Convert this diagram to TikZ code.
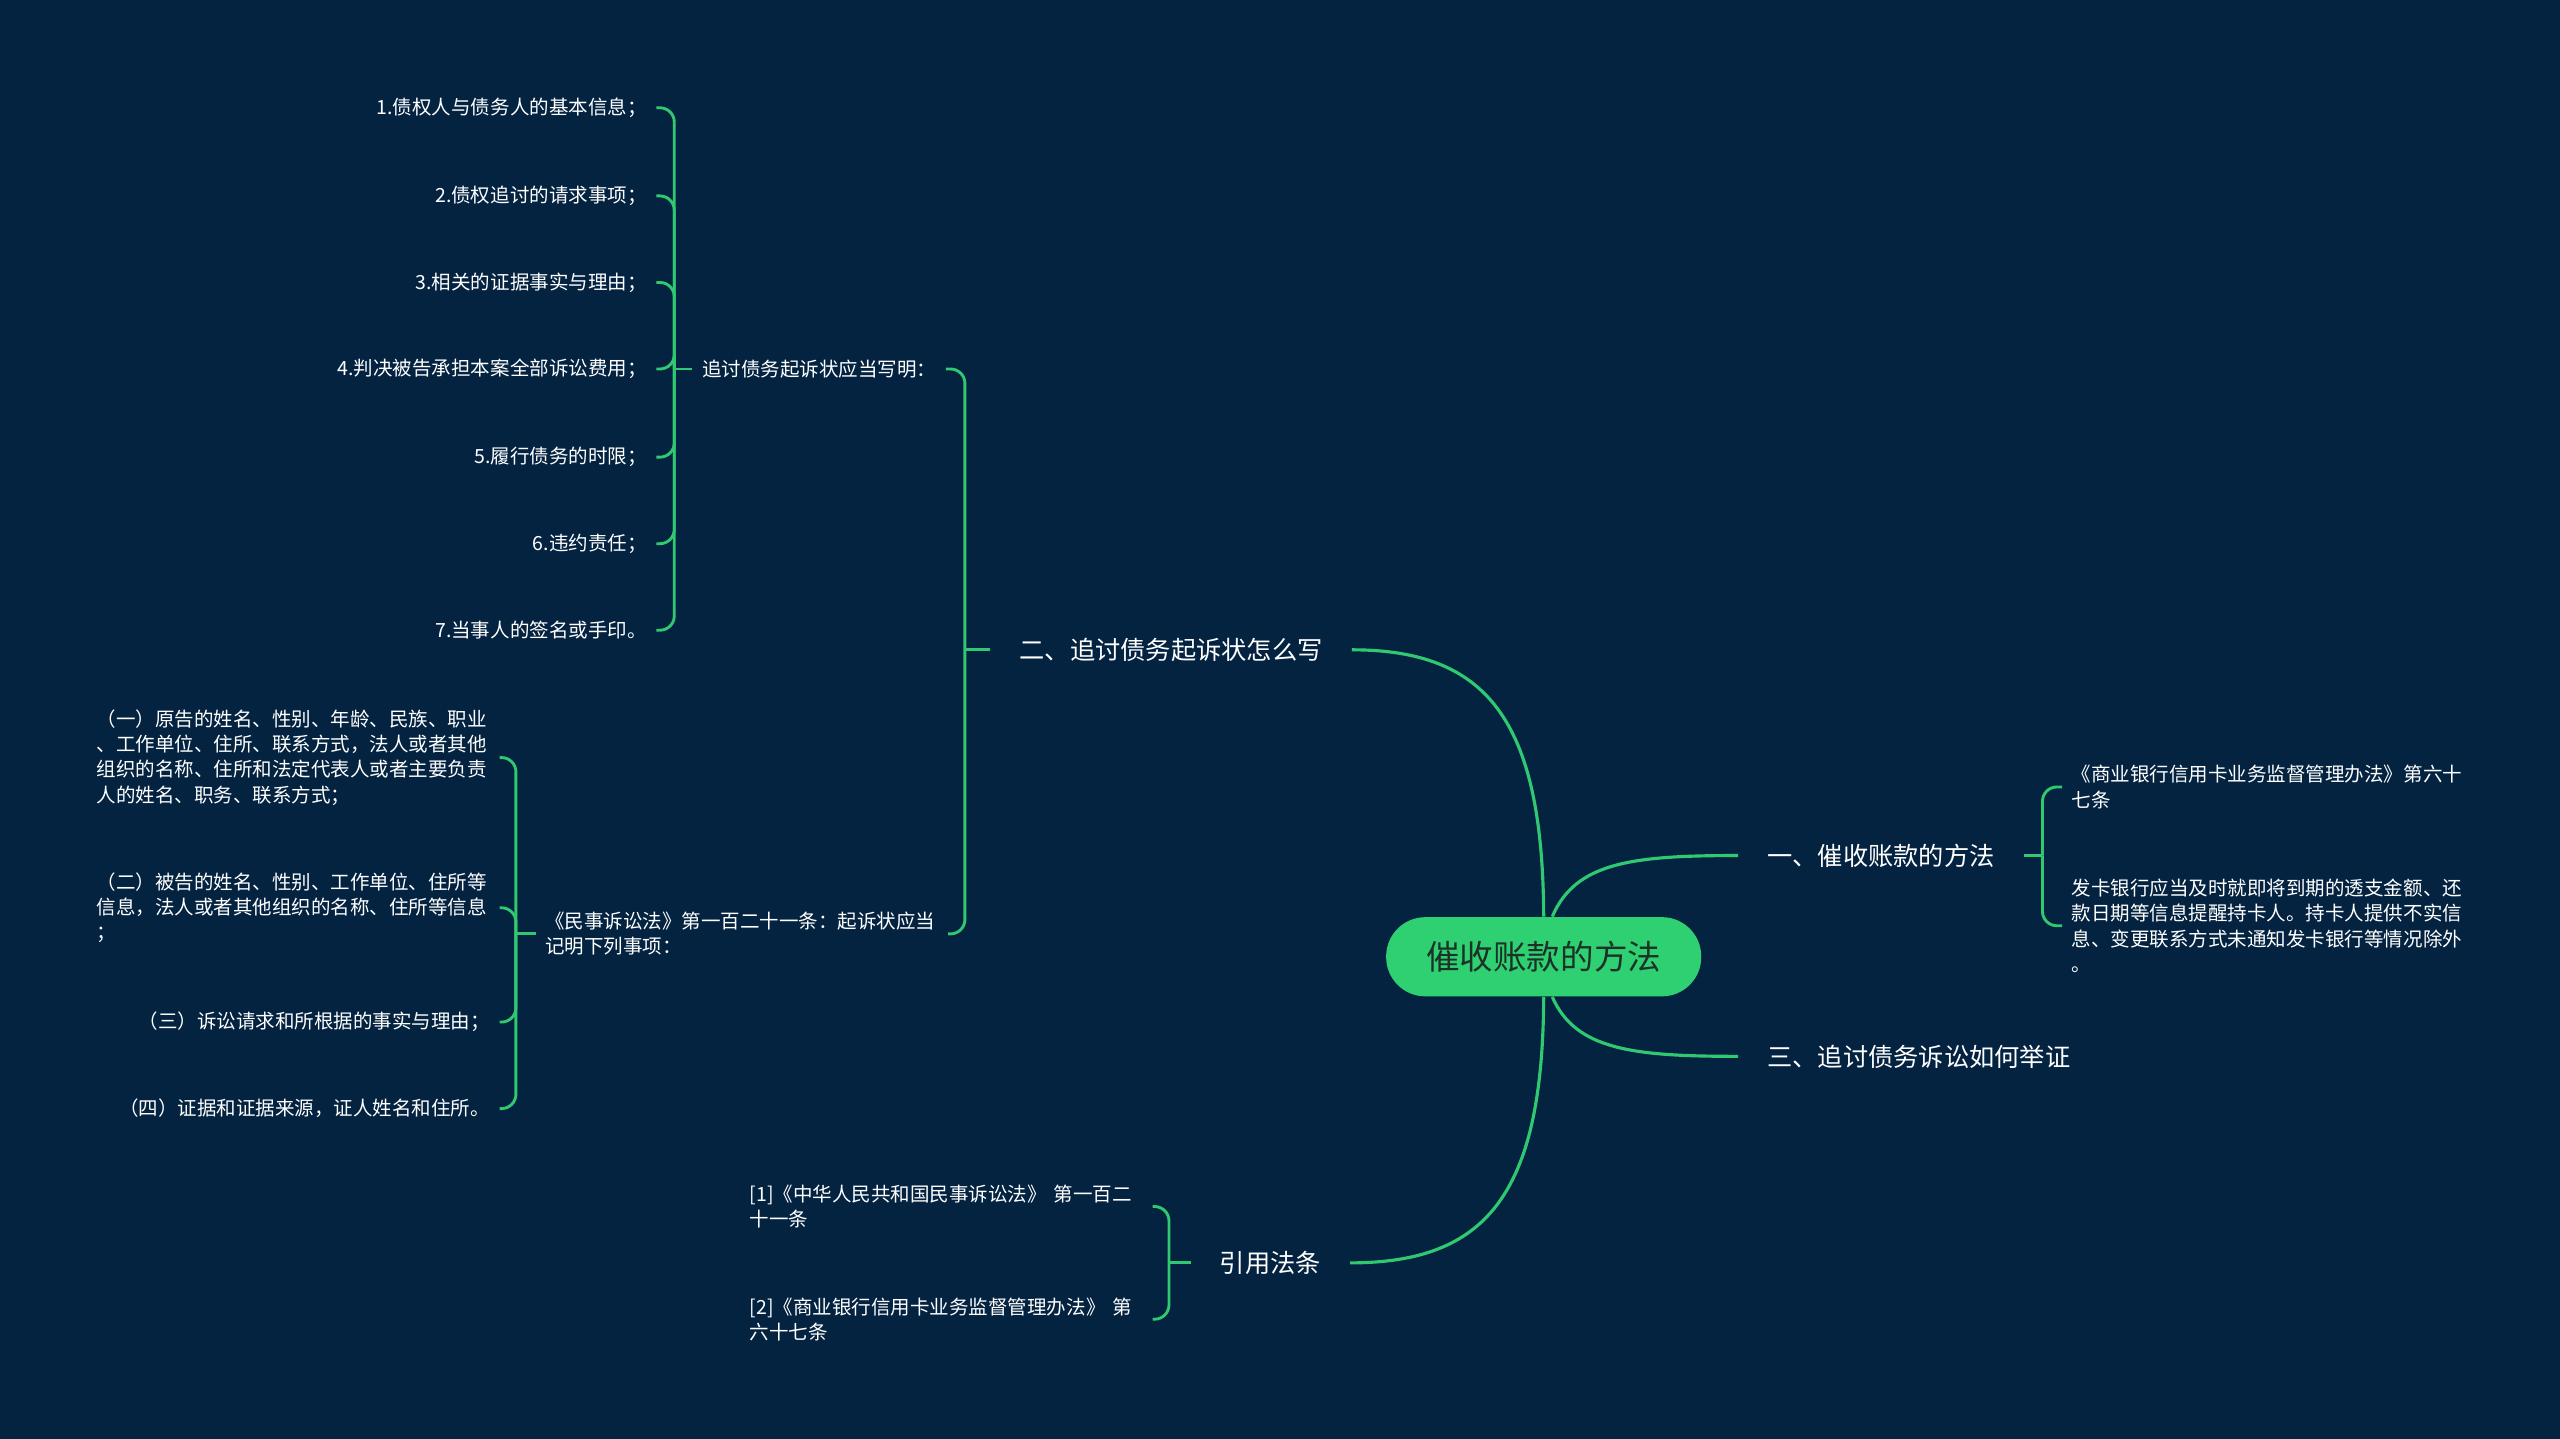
\documentclass[tikz,border=0pt]{standalone}
\usepackage{fontspec}
\setmainfont{Noto Sans CJK SC}
\usepackage{tikz}
\usetikzlibrary{positioning}
\definecolor{bgC}{RGB}{3,35,64}
\definecolor{linkC}{RGB}{48,200,112}
\definecolor{rootC}{RGB}{46,208,114}
\definecolor{rootTextC}{RGB}{28,50,40}
\newcommand{\leafsize}{\fontsize{6.8pt}{8.8pt}\selectfont}
\newcommand{\branchsize}{\fontsize{8.8pt}{10pt}\selectfont}

\begin{document}
\begin{tikzpicture}[x=0.2mm,y=-0.2mm,
    link/.style={linkC,line width=1.1pt},
    brace/.style={linkC,line width=1pt,rounded corners=5pt},
    rootnode/.style={fill=rootC,text=rootTextC,rounded corners=4.8mm,
      minimum width=38.6mm,minimum height=9.7mm,inner sep=0pt,
      font=\fontsize{11.7pt}{13pt}\selectfont},
    branch/.style={text=white,inner xsep=10pt,inner ysep=0pt,font=\branchsize},
    leaf/.style={text=white,inner sep=0pt,outer sep=3.4pt,font=\leafsize},
    leafbox/.style={leaf,text width=137pt,align=left}]
  % background and frame
  \useasboundingbox (0,0) rectangle (1568,881);
  \fill[bgC] (-5,-5) rectangle (1573,886);

  % Root
  \node[rootnode] (root) at (945.5,586) {催收账款的方法};

  % Main branches
  \node[branch,anchor=west] (b1) at (1064.6,524) {一、催收账款的方法};
  \node[branch,anchor=east] (b2) at (828,398) {二、追讨债务起诉状怎么写};
  \node[branch,anchor=west] (b3) at (1064.6,647) {三、追讨债务诉讼如何举证};
  \node[branch,anchor=east] (b4) at (827,773.5) {引用法条};

  \draw[link] (root.north) .. controls (945,440) and (910,398) .. (b2.east);
  \draw[link] (root.south) .. controls (945,732) and (910,773.5) .. (b4.east);
  \draw[link] ([xshift=3pt]root.north) .. controls (965,528) and (1000,524) .. (b1.west);
  \draw[link] ([xshift=3pt]root.south) .. controls (965,643) and (1000,647) .. (b3.west);

  % Branch one
  \coordinate (b1J) at (1251,524);
  \node[leafbox,anchor=west] (rule67) at (1263,482)
    {《商业银行信用卡业务监督管理办法》第六十\\七条};
  \node[leafbox,anchor=west] (remind) at (1263,567)
    {发卡银行应当及时就即将到期的透支金额、还\\款日期等信息提醒持卡人。持卡人提供不实信\\息、变更联系方式未通知发卡银行等情况除外\\。};
  \draw[brace] (b1.east) -- (b1J);
  \draw[brace] (b1J) |- (rule67.west);
  \draw[brace] (b1J) |- (remind.west);

  % Branch two
  \coordinate (b2J) at (591,398);
  \node[leaf,anchor=west] (ask) at (424,226) {追讨债务起诉状应当写明：};
  \node[leafbox,anchor=west] (law121) at (328,572)
    {《民事诉讼法》第一百二十一条：起诉状应当\\记明下列事项：};
  \draw[brace] (b2.west) -- (b2J);
  \draw[brace] (b2J) |- (ask.east);
  \draw[brace] (b2J) |- (law121.east);

  \coordinate (askJ) at (413,226);
  \draw[brace] (ask.west) -- (askJ);
  \foreach \i/\y/\t in {1/66/{1.债权人与债务人的基本信息；},
      2/120/{2.债权追讨的请求事项；},
      3/173/{3.相关的证据事实与理由；},
      4/226/{4.判决被告承担本案全部诉讼费用；},
      5/280/{5.履行债务的时限；},
      6/333/{6.违约责任；},
      7/386/{7.当事人的签名或手印。}}{
    \node[leaf,anchor=east] (item\i) at (402,\y) {\t};
    \draw[brace] (askJ) |- (item\i.east);
  }

  \coordinate (lawJ) at (316,572);
  \node[leafbox,anchor=east] (plain1) at (306,464)
    {（一）原告的姓名、性别、年龄、民族、职业\\、工作单位、住所、联系方式，法人或者其他\\组织的名称、住所和法定代表人或者主要负责\\人的姓名、职务、联系方式；};
  \node[leafbox,anchor=east] (plain2) at (306,556)
    {（二）被告的姓名、性别、工作单位、住所等\\信息，法人或者其他组织的名称、住所等信息\\；};
  \node[leaf,anchor=east] (plain3) at (306,626) {（三）诉讼请求和所根据的事实与理由；};
  \node[leaf,anchor=east] (plain4) at (306,679) {（四）证据和证据来源，证人姓名和住所。};
  \draw[brace] (law121.west) -- (lawJ);
  \foreach \n in {plain1,plain2,plain3,plain4}
    \draw[brace] (lawJ) |- (\n.east);

  % Branch four
  \coordinate (b4J) at (716,773.5);
  \node[leafbox,anchor=east] (cite1) at (706,739)
    {[1]《中华人民共和国民事诉讼法》 第一百二\\十一条};
  \node[leafbox,anchor=east] (cite2) at (706,808)
    {[2]《商业银行信用卡业务监督管理办法》 第\\六十七条};
  \draw[brace] (b4.west) -- (b4J);
  \draw[brace] (b4J) |- (cite1.east);
  \draw[brace] (b4J) |- (cite2.east);
\end{tikzpicture}
\end{document}
